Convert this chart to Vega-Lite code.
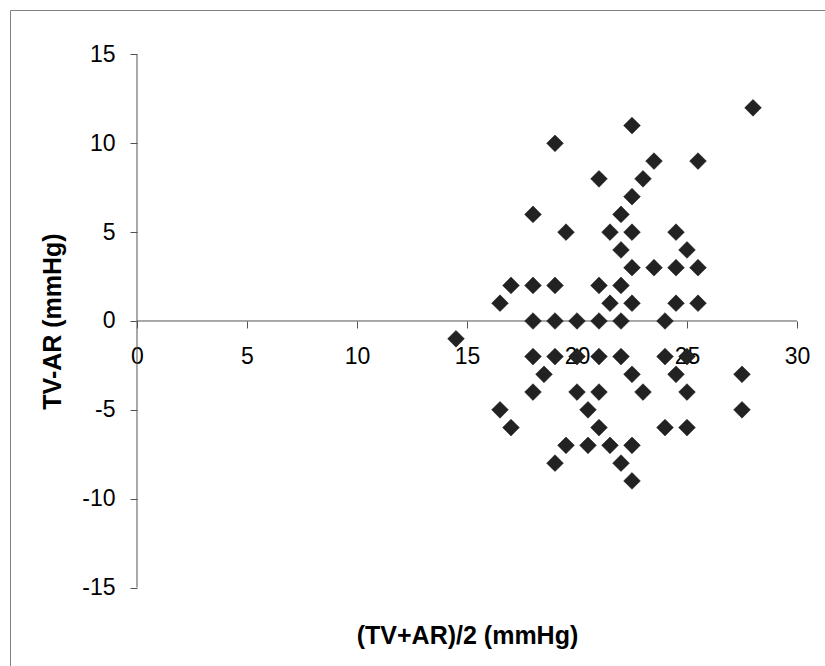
{
  "$schema": "https://vega.github.io/schema/vega-lite/v6.json",
  "width": 815,
  "height": 656,
  "autosize": {"type": "none"},
  "padding": {"left": 10, "top": 10, "right": 0, "bottom": 0},
  "background": "white",
  "config": {
    "view": {"stroke": "#7f7f7f", "strokeWidth": 1},
    "axis": {
      "grid": false,
      "domain": false,
      "labelFont": "Liberation Sans",
      "titleFont": "Liberation Sans",
      "labelColor": "#000000",
      "titleColor": "#000000",
      "tickColor": "#555555",
      "tickWidth": 1,
      "tickSize": 7,
      "labelFontSize": 23,
      "titleFontSize": 25,
      "titleFontWeight": "bold",
      "labelFlush": false,
      "labelOverlap": false,
      "labelExpr": "'' + datum.value"
    }
  },
  "datasets": {
    "points": [
      {"x": 28, "y": 12},
      {"x": 22.5, "y": 11},
      {"x": 19, "y": 10},
      {"x": 23.5, "y": 9}, {"x": 25.5, "y": 9},
      {"x": 21, "y": 8}, {"x": 23, "y": 8},
      {"x": 22.5, "y": 7},
      {"x": 18, "y": 6}, {"x": 22, "y": 6},
      {"x": 19.5, "y": 5}, {"x": 21.5, "y": 5}, {"x": 22.5, "y": 5}, {"x": 24.5, "y": 5},
      {"x": 22, "y": 4}, {"x": 25, "y": 4},
      {"x": 22.5, "y": 3}, {"x": 23.5, "y": 3}, {"x": 24.5, "y": 3}, {"x": 25.5, "y": 3},
      {"x": 17, "y": 2}, {"x": 18, "y": 2}, {"x": 19, "y": 2}, {"x": 21, "y": 2}, {"x": 22, "y": 2},
      {"x": 16.5, "y": 1}, {"x": 21.5, "y": 1}, {"x": 22.5, "y": 1}, {"x": 24.5, "y": 1}, {"x": 25.5, "y": 1},
      {"x": 18, "y": 0}, {"x": 19, "y": 0}, {"x": 20, "y": 0}, {"x": 21, "y": 0}, {"x": 22, "y": 0}, {"x": 24, "y": 0},
      {"x": 14.5, "y": -1},
      {"x": 18, "y": -2}, {"x": 19, "y": -2}, {"x": 20, "y": -2}, {"x": 21, "y": -2}, {"x": 22, "y": -2}, {"x": 24, "y": -2}, {"x": 25, "y": -2},
      {"x": 18.5, "y": -3}, {"x": 22.5, "y": -3}, {"x": 24.5, "y": -3}, {"x": 27.5, "y": -3},
      {"x": 18, "y": -4}, {"x": 20, "y": -4}, {"x": 21, "y": -4}, {"x": 23, "y": -4}, {"x": 25, "y": -4},
      {"x": 16.5, "y": -5}, {"x": 20.5, "y": -5}, {"x": 27.5, "y": -5},
      {"x": 17, "y": -6}, {"x": 21, "y": -6}, {"x": 24, "y": -6}, {"x": 25, "y": -6},
      {"x": 19.5, "y": -7}, {"x": 20.5, "y": -7}, {"x": 21.5, "y": -7}, {"x": 22.5, "y": -7},
      {"x": 19, "y": -8}, {"x": 22, "y": -8},
      {"x": 22.5, "y": -9}
    ],
    "axes": [
      {"x": 0, "x2": 30, "y": 0, "y2": 0},
      {"x": 0, "x2": 0, "y": -15, "y2": 15}
    ]
  },
  "layer": [
    {
      "data": {"name": "axes"},
      "mark": {"type": "rule", "color": "#555555", "strokeWidth": 1},
      "encoding": {
        "x": {"field": "x", "type": "quantitative", "scale": {"domain": [-5.7727, 31.2727], "nice": false, "zero": false}},
        "x2": {"field": "x2"},
        "y": {"field": "y", "type": "quantitative", "scale": {"domain": [-19.418, 17.504], "nice": false, "zero": false}},
        "y2": {"field": "y2"}
      }
    },
    {
      "data": {"name": "points"},
      "mark": {"type": "point", "shape": "diamond", "filled": true, "size": 280, "color": "#222222", "opacity": 1, "stroke": "#111111", "strokeWidth": 0.5},
      "encoding": {
        "x": {
          "field": "x", "type": "quantitative",
          "scale": {"domain": [-5.7727, 31.2727], "nice": false, "zero": false},
          "axis": {
            "values": [0, 5, 10, 15, 20, 25, 30],
            "offset": -345,
            "labelPadding": 17,
            "labelBaseline": "top",
            "title": "(TV+AR)/2 (mmHg)",
            "titleX": 457,
            "titleY": 314,
            "titleBaseline": "middle",
            "titleAlign": "center"
          }
        },
        "y": {
          "field": "y", "type": "quantitative",
          "scale": {"domain": [-19.418, 17.504], "nice": false, "zero": false},
          "axis": {
            "values": [-15, -10, -5, 0, 5, 10, 15],
            "offset": -127,
            "labelPadding": 15,
            "title": "TV-AR (mmHg)",
            "titleX": -84.5,
            "titleY": 311,
            "titleBaseline": "middle",
            "titleAlign": "center",
            "titleAngle": 270
          }
        }
      }
    }
  ]
}
